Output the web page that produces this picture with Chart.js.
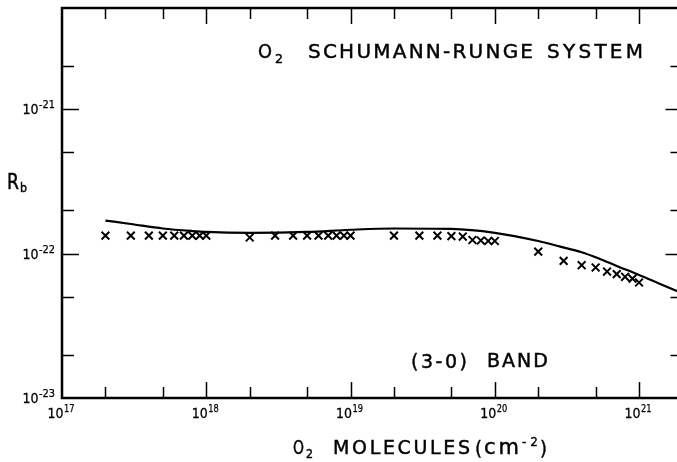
<!DOCTYPE html>
<html>
<head>
<meta charset="utf-8">
<script src="https://cdn.jsdelivr.net/npm/chart.js@4/dist/chart.umd.min.js"></script>
<style>
  html, body { margin: 0; padding: 0; overflow: hidden; background: #fff; }
</style>
</head>
<body>
<canvas id="chart" width="690" height="462"></canvas>
<script>
// measured points (crosses)
const crossX = [
  2e17, 3e17, 4e17, 5e17, 6e17, 7e17, 8e17, 9e17, 1e18,
  2e18, 3e18, 4e18, 5e18, 6e18, 7e18, 8e18, 9e18, 1e19,
  2e19, 3e19, 4e19, 5e19, 6e19, 7e19, 8e19, 9e19, 1e20,
  2e20, 3e20, 4e20, 5e20, 6e20, 7e20, 8e20, 9e20, 1e21
];
const crossY = [
  1.33e-22, 1.33e-22, 1.33e-22, 1.33e-22, 1.33e-22, 1.33e-22, 1.33e-22, 1.33e-22, 1.33e-22,
  1.29e-22, 1.33e-22, 1.33e-22, 1.33e-22, 1.33e-22, 1.33e-22, 1.33e-22, 1.33e-22, 1.33e-22,
  1.33e-22, 1.33e-22, 1.33e-22, 1.32e-22, 1.31e-22, 1.24e-22, 1.23e-22, 1.22e-22, 1.22e-22,
  1.03e-22, 0.89e-22, 0.83e-22, 0.80e-22, 0.75e-22, 0.72e-22, 0.69e-22, 0.67e-22, 0.63e-22
];

// computed curve
const curveX = [2e17, 3e17, 5e17, 8e17, 1e18, 2e18, 5e18, 1e19, 2e19, 5e19, 1e20, 2e20, 2.8e20, 4e20, 5.3e20, 7e20, 1e21, 1.4e21, 2e21];
const curveY = [1.69e-22, 1.60e-22, 1.49e-22, 1.43e-22, 1.41e-22, 1.39e-22, 1.41e-22, 1.46e-22, 1.49e-22, 1.48e-22, 1.39e-22, 1.22e-22, 1.12e-22, 1.02e-22, 0.92e-22, 0.82e-22, 0.71e-22, 0.615e-22, 0.53e-22];

// axis ticks
const xTicks = [2e17, 5e17, 1e18, 2e18, 5e18, 1e19, 2e19, 5e19, 1e20, 2e20, 5e20, 1e21];
const yTicks = [2e-23, 5e-23, 1e-22, 2e-22, 5e-22, 1e-21, 2e-21];
const xLabelExp = [17, 18, 19, 20, 21];
const yLabelExp = [-23, -22, -21];

const FONT = '"DejaVu Sans", sans-serif';

function isMajor(v) {
  const l = Math.log10(v);
  return Math.abs(l - Math.round(l)) < 1e-6;
}

// draw text to fill x0..x1: spread letters if there is room, squeeze otherwise
function fitText(ctx, text, x0, x1, base, size, weight) {
  ctx.font = size + 'px ' + FONT;
  ctx.lineWidth = weight === undefined ? 0.45 : weight;
  const chars = [...text];
  const widths = chars.map(c => ctx.measureText(c).width);
  const total = widths.reduce((s, w) => s + w, 0);
  const target = x1 - x0;
  let scale = 1, gap = 0;
  if (total > target || chars.length < 2) scale = target / total;
  else gap = (target - total) / (chars.length - 1);
  ctx.save();
  ctx.translate(x0, base);
  ctx.scale(scale, 1);
  let x = 0;
  chars.forEach((c, i) => {
    ctx.fillText(c, x, 0);
    ctx.strokeText(c, x, 0);
    x += widths[i] + gap / scale;
  });
  ctx.restore();
}

function powerLabel(ctx, exp, cx, base, align) {
  const w1 = 16, w2 = String(exp).length * 5.5;
  const x0 = align === 'right' ? cx - w1 - w2 : cx - (w1 + w2) / 2;
  fitText(ctx, '10', x0, x0 + w1, base, 14, 0.3);
  fitText(ctx, String(exp), x0 + w1 + 0.5, x0 + w1 + w2, base - 6, 10, 0.25);
}

const framePlugin = {
  id: 'frame',
  afterDraw(chart) {
    const { ctx, chartArea: a, scales: { x, y } } = chart;
    ctx.save();
    ctx.strokeStyle = '#000';
    ctx.fillStyle = '#000';
    ctx.lineWidth = 2.5;
    ctx.strokeRect(a.left, a.top, a.right - a.left, a.bottom - a.top);

    ctx.lineWidth = 1.5;
    ctx.beginPath();
    xTicks.forEach(v => {
      const px = Math.round(x.getPixelForValue(v)) + 0.5;
      const len = isMajor(v) ? 16 : 11;
      ctx.moveTo(px, a.bottom); ctx.lineTo(px, a.bottom - len);
      ctx.moveTo(px, a.top); ctx.lineTo(px, a.top + len);
    });
    yTicks.forEach(v => {
      const py = Math.round(y.getPixelForValue(v)) + 0.5;
      const len = isMajor(v) ? 17 : 12;
      ctx.moveTo(a.left, py); ctx.lineTo(a.left + len, py);
      ctx.moveTo(a.right, py); ctx.lineTo(a.right - len, py);
    });
    ctx.stroke();

    ctx.textBaseline = 'alphabetic';
    ctx.textAlign = 'left';
    xLabelExp.forEach(e => {
      powerLabel(ctx, e, x.getPixelForValue(Math.pow(10, e)) - 1, 418, 'center');
    });
    yLabelExp.forEach(e => {
      powerLabel(ctx, e, 55, y.getPixelForValue(Math.pow(10, e)) + 5, 'right');
    });

    // annotations
    fitText(ctx, 'O', 258, 272, 58, 20);
    fitText(ctx, '2', 275, 283, 63, 13);
    fitText(ctx, 'SCHUMANN-RUNGE', 308, 533, 58, 20);
    fitText(ctx, 'SYSTEM', 547, 643, 58, 20);

    fitText(ctx, '(3-0)', 411, 467, 368, 19);
    fitText(ctx, 'BAND', 487, 548, 367, 19);

    // axis titles
    fitText(ctx, 'O', 293, 304, 454, 19);
    fitText(ctx, '2', 306, 313, 458, 12);
    fitText(ctx, 'MOLECULES', 333, 470, 454, 19);
    fitText(ctx, '(', 475, 482, 455, 19);
    fitText(ctx, 'cm', 484, 519, 454, 21);
    fitText(ctx, '-2', 522, 538, 446, 12, 0.3);
    fitText(ctx, ')', 540, 547, 455, 19);

    fitText(ctx, 'R', 7, 19, 189, 21);
    fitText(ctx, 'b', 20, 27, 192, 13);
    ctx.restore();
  }
};

new Chart(document.getElementById('chart'), {
  type: 'scatter',
  data: {
    datasets: [
      {
        label: 'measured',
        data: crossX.map((v, i) => ({ x: v, y: crossY[i] })),
        pointStyle: 'crossRot',
        pointRadius: 5.5,
        borderColor: '#000',
        borderWidth: 2,
        showLine: false
      },
      {
        label: 'computed',
        data: curveX.map((v, i) => ({ x: v, y: curveY[i] })),
        showLine: true,
        borderColor: '#000',
        borderWidth: 2.2,
        pointRadius: 0,
        cubicInterpolationMode: 'monotone'
      }
    ]
  },
  options: {
    responsive: false,
    animation: false,
    layout: { padding: { left: 62, right: 7, top: 8, bottom: 64 } },
    plugins: { legend: { display: false }, tooltip: { enabled: false } },
    scales: {
      x: { type: 'logarithmic', min: 1e17, max: 2e21, display: false },
      y: { type: 'logarithmic', min: 1e-23, max: 5e-21, display: false }
    }
  },
  plugins: [framePlugin]
});
</script>
</body>
</html>
